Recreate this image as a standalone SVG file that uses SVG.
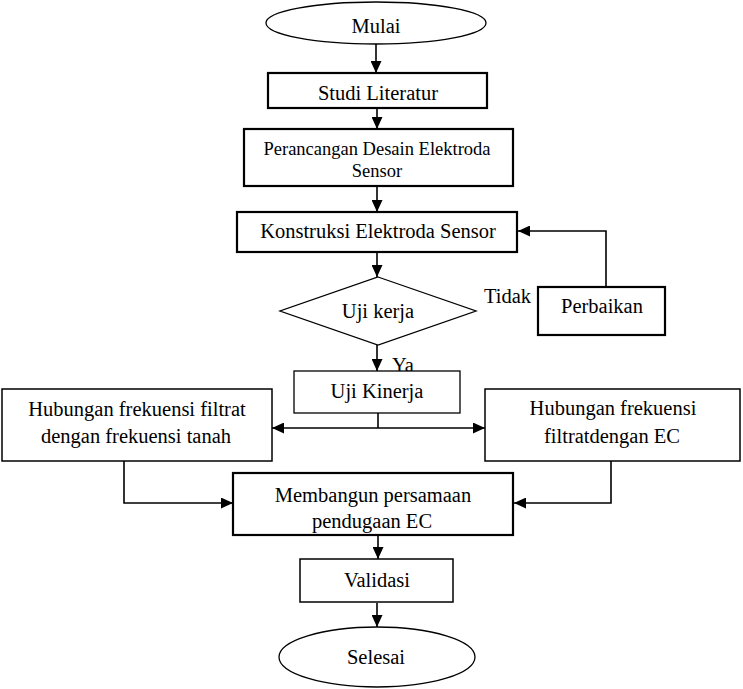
<svg xmlns="http://www.w3.org/2000/svg" width="743" height="689" viewBox="0 0 743 689">
<style>
text{font-family:"Liberation Serif","Times New Roman",serif;font-size:20.5px;fill:#000;text-anchor:middle}
.sm{font-size:18.5px}
.lt{text-anchor:start}
.box{fill:#fff;stroke:#000;stroke-width:1.5}
.thick{stroke-width:2.2}
.thin{stroke-width:1.3}
.conn{fill:none;stroke:#000;stroke-width:1.6}
</style>
<defs>
<marker id="ah" markerUnits="userSpaceOnUse" markerWidth="12" markerHeight="11" refX="12" refY="5.5" orient="auto">
<path d="M0,0 L12,5.5 L0,11 z" fill="#000"/>
</marker>
</defs>
<rect width="743" height="689" fill="#fff"/>
<g id="connectors">
<path class="conn" d="M376,44 V73" marker-end="url(#ah)"/>
<path class="conn" d="M377,109 V129" marker-end="url(#ah)"/>
<path class="conn" d="M377,187 V212" marker-end="url(#ah)"/>
<path class="conn" d="M377,253 V277" marker-end="url(#ah)"/>
<path class="conn" d="M377,345 V371" marker-end="url(#ah)"/>
<path class="conn" d="M606,287 V231 H518" marker-end="url(#ah)"/>
<path class="conn" d="M378,413 V428"/>
<path class="conn" d="M378,428 H272" marker-end="url(#ah)"/>
<path class="conn" d="M378,428 H485" marker-end="url(#ah)"/>
<path class="conn" d="M124,461 V503 H233" marker-end="url(#ah)"/>
<path class="conn" d="M611,461 V503 H514" marker-end="url(#ah)"/>
<path class="conn" d="M378,536 V559" marker-end="url(#ah)"/>
<path class="conn" d="M377,603 V627" marker-end="url(#ah)"/>
</g>
<g id="mulai">
<ellipse class="box thin" cx="376" cy="23" rx="110" ry="21"/>
<text x="376" y="33">Mulai</text>
</g>
<g id="studi">
<rect class="box thick" x="268" y="73" width="219" height="35"/>
<text x="378" y="100">Studi Literatur</text>
</g>
<g id="perancangan">
<rect class="box thick" x="244" y="129" width="269" height="57"/>
<text class="sm" x="377" y="155">Perancangan Desain Elektroda</text>
<text class="sm" x="377" y="177">Sensor</text>
</g>
<g id="konstruksi">
<rect class="box thick" x="237" y="212" width="280" height="40"/>
<text x="378" y="238">Konstruksi Elektroda Sensor</text>
</g>
<g id="ujikerja">
<polygon class="box thin" points="378,277 476,311 378,345 280,311"/>
<text x="378" y="318">Uji kerja</text>
</g>
<g id="tidak">
<text class="lt" x="484" y="303">Tidak</text>
</g>
<g id="perbaikan">
<rect class="box thick" x="538" y="287" width="127" height="48"/>
<text x="602" y="313">Perbaikan</text>
</g>
<g id="ya">
<text class="lt" x="392" y="372">Ya</text>
</g>
<g id="ujikinerja">
<rect class="box thin" x="294" y="371" width="166" height="42"/>
<text x="377" y="398">Uji Kinerja</text>
</g>
<g id="hub-tanah">
<rect class="box" x="2" y="389" width="270" height="72"/>
<text x="137" y="416">Hubungan frekuensi filtrat</text>
<text x="136" y="443">dengan frekuensi tanah</text>
</g>
<g id="hub-ec">
<rect class="box" x="485" y="389" width="255" height="72"/>
<text x="613" y="415">Hubungan frekuensi</text>
<text x="612" y="443">filtratdengan EC</text>
</g>
<g id="membangun">
<rect class="box thick" x="233" y="473" width="280" height="62"/>
<text x="373" y="502">Membangun persamaan</text>
<text x="372" y="528">pendugaan EC</text>
</g>
<g id="validasi">
<rect class="box" x="300" y="559" width="153" height="43"/>
<text x="377" y="587">Validasi</text>
</g>
<g id="selesai">
<ellipse class="box thin" cx="377" cy="657" rx="98" ry="30"/>
<text x="376" y="664">Selesai</text>
</g>
</svg>
